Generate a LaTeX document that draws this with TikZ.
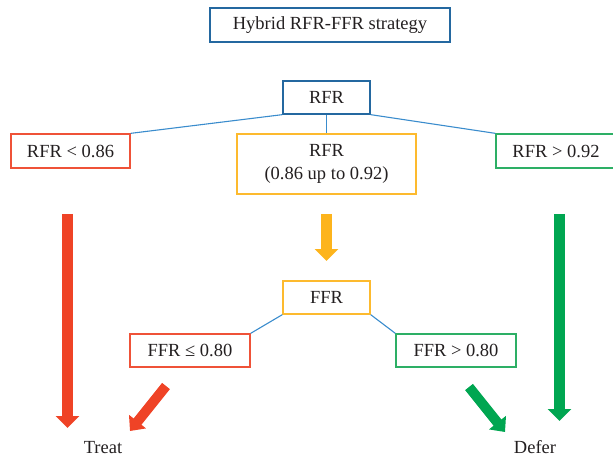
\documentclass[tikz,border=0pt]{standalone}
\usepackage{fontspec}
\setmainfont{Liberation Serif}
\usetikzlibrary{arrows.meta}
\definecolor{boxblue}{HTML}{2468A0}
\definecolor{lineblue}{HTML}{3A8CCD}
\definecolor{redbox}{HTML}{EF5238}
\definecolor{redarrow}{HTML}{EF4326}
\definecolor{orangebox}{HTML}{FDBA2E}
\definecolor{orangearrow}{HTML}{FDB41C}
\definecolor{greenbox}{HTML}{2DAF65}
\definecolor{greenarrow}{HTML}{00A651}
\definecolor{txt}{HTML}{231F20}
\tikzset{
  box/.style={draw, line width=1.3pt, rectangle, inner sep=0pt, text=txt,
    font=\fontsize{18.5}{23}\selectfont, align=center},
  link/.style={draw=lineblue, line width=1.1pt},
  bigarrow/.style={line width=11pt, -{Triangle[width=23pt,length=12pt]}},
  diagarrow/.style={line width=10pt, -{Triangle[width=21pt,length=12pt]}},
  lbl/.style={text=txt, font=\fontsize{18.5}{21}\selectfont, inner sep=0pt}
}
\begin{document}
\begin{tikzpicture}[x=1pt,y=-1pt]
\useasboundingbox (0,0) rectangle (613,457);
% nodes
\node[box, draw=boxblue, minimum width=240pt, minimum height=34pt] (title) at (330,25) {Hybrid RFR-FFR strategy};
\node[box, draw=boxblue, minimum width=87pt, minimum height=33pt] (rfr) at (326.5,97.5) {RFR};
\node[box, draw=redbox, minimum width=119pt, minimum height=34pt] (low) at (70.5,151) {RFR < 0.86};
\node[box, draw=orangebox, minimum width=179pt, minimum height=60pt] (mid) at (326.5,164) {RFR\\(0.86 up to 0.92)};
\node[box, draw=greenbox, minimum width=120pt, minimum height=34pt] (high) at (556,151) {RFR > 0.92};
\node[box, draw=orangebox, minimum width=87pt, minimum height=33pt] (ffr) at (326.5,297.5) {FFR};
\node[box, draw=redbox, minimum width=120pt, minimum height=33pt] (ffrlow) at (190,350.5) {FFR ≤ 0.80};
\node[box, draw=greenbox, minimum width=120pt, minimum height=33pt] (ffrhigh) at (456,350.5) {FFR > 0.80};
\node[lbl] (treat) at (103,447.5) {Treat};
\node[lbl] (defer) at (535,447.5) {Defer};
% connectors
\draw[link] (rfr.south west) -- (low.north east);
\draw[link] (rfr.south) -- (mid.north);
\draw[link] (rfr.south east) -- (high.north west);
\draw[link] (ffr.south west) -- (ffrlow.north east);
\draw[link] (ffr.south east) -- (ffrhigh.north west);
% block arrows
\coordinate (oa1) at (326.5,214); \coordinate (oa2) at (326.5,261);
\coordinate (ra1) at (67.5,214);  \coordinate (ra2) at (67.5,428);
\coordinate (ga1) at (559.5,214); \coordinate (ga2) at (559.5,421);
\coordinate (rd1) at (166,386);   \coordinate (rd2) at (130,431);
\coordinate (gd1) at (469,387);   \coordinate (gd2) at (505,432);
\draw[bigarrow, orangearrow] (oa1) -- (oa2);
\draw[bigarrow, redarrow] (ra1) -- (ra2);
\draw[bigarrow, greenarrow] (ga1) -- (ga2);
\draw[diagarrow, redarrow] (rd1) -- (rd2);
\draw[diagarrow, greenarrow] (gd1) -- (gd2);
\end{tikzpicture}
\end{document}
